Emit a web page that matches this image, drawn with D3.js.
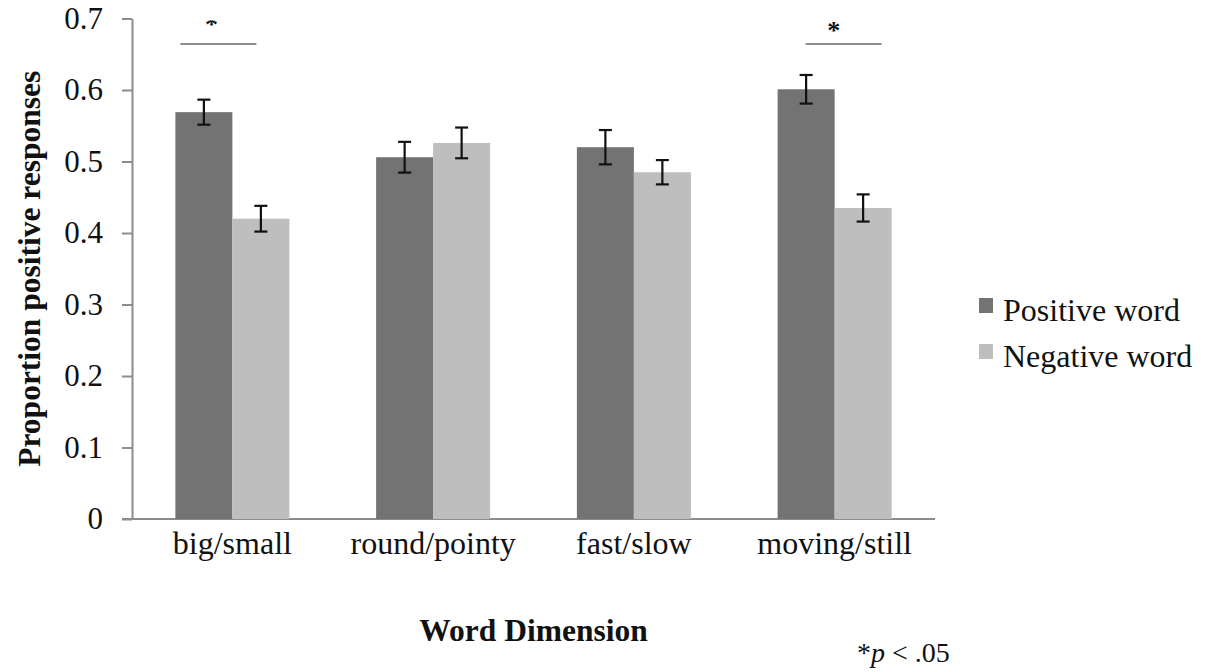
<!DOCTYPE html>
<html>
<head>
<meta charset="utf-8">
<script src="https://cdn.jsdelivr.net/npm/d3@7/dist/d3.min.js"></script>
<style>
  html, body { margin: 0; padding: 0; background: #fff; }
  svg { display: block; }
  text { font-family: "Liberation Serif", "Times New Roman", serif; fill: #111; }
</style>
</head>
<body>
<svg id="chart" width="1212" height="672"></svg>
<script>
// Word dimensions on the x axis
const categories = ["big/small", "round/pointy", "fast/slow", "moving/still"];
// Series names (legend)
const seriesNames = ["Positive word", "Negative word"];
// Mean proportion of positive responses
const positiveWord = [0.569, 0.506, 0.520, 0.601];
const negativeWord = [0.420, 0.526, 0.485, 0.435];
// Standard errors
const positiveErr = [0.0175, 0.0215, 0.024, 0.020];
const negativeErr = [0.018, 0.0215, 0.017, 0.019];
// Y axis tick values
const yTicks = [0, 0.1, 0.2, 0.3, 0.4, 0.5, 0.6, 0.7];
// Dimensions with a significant difference
const significant = ["big/small", "moving/still"];

const colors = { "Positive word": "#737373", "Negative word": "#bebebe" };
const axisColor = "#8c8c8c";
const serif = "Liberation Serif, serif";

const svg = d3.select("#chart");
const plotLeft = 132, plotRight = 935, plotTop = 18.5, plotBottom = 519;

const x0 = d3.scaleBand().domain(categories).range([plotLeft, plotRight]);
const x1 = d3.scaleBand().domain(seriesNames).range([0, x0.bandwidth()])
  .paddingInner(0).paddingOuter(0.761);
const y = d3.scaleLinear().domain([0, 0.7]).range([plotBottom, plotTop]);

const rows = categories.map((c, i) => ({
  cat: c,
  vals: [
    { s: seriesNames[0], v: positiveWord[i], e: positiveErr[i] },
    { s: seriesNames[1], v: negativeWord[i], e: negativeErr[i] }
  ]
}));

// Y axis
const yAxis = d3.axisLeft(y).tickValues(yTicks).tickSize(10).tickSizeOuter(0).tickPadding(19)
  .tickFormat(d => d === 0 ? "0" : d3.format(".1f")(d));
const gy = svg.append("g").attr("transform", `translate(${plotLeft},0)`).call(yAxis);
gy.attr("font-family", serif);
gy.select(".domain").attr("stroke", axisColor).attr("stroke-width", 2);
gy.selectAll(".tick line").attr("stroke", axisColor).attr("stroke-width", 2);
gy.selectAll(".tick text").attr("font-size", 31).attr("fill", "#111");

// X axis baseline (extends under the 0 tick)
const xAxis = d3.axisBottom(x0).tickSize(0).tickSizeOuter(0).tickPadding(12);
const gx = svg.append("g").attr("transform", `translate(0,${plotBottom})`).call(xAxis);
gx.attr("font-family", serif);
gx.select(".domain").remove();
gx.append("line").attr("x1", plotLeft - 10).attr("x2", plotRight).attr("y1", 0).attr("y2", 0)
  .attr("stroke", axisColor).attr("stroke-width", 2);
gx.selectAll(".tick text").attr("font-size", 32).attr("fill", "#111").attr("dy", "0.71em");

// Bars
const groups = svg.append("g").selectAll("g").data(rows).join("g")
  .attr("transform", d => `translate(${x0(d.cat)},0)`);
groups.selectAll("rect").data(d => d.vals).join("rect")
  .attr("x", d => x1(d.s))
  .attr("width", x1.bandwidth())
  .attr("y", d => y(d.v))
  .attr("height", d => y(0) - y(d.v))
  .attr("fill", d => colors[d.s]);

// Error bars
const cap = 6.5;
const eb = groups.selectAll("g.err").data(d => d.vals).join("g").attr("class", "err")
  .attr("stroke", "#111").attr("stroke-width", 2.2);
eb.append("line")
  .attr("x1", d => x1(d.s) + x1.bandwidth() / 2).attr("x2", d => x1(d.s) + x1.bandwidth() / 2)
  .attr("y1", d => y(d.v + d.e)).attr("y2", d => y(d.v - d.e));
eb.append("line")
  .attr("x1", d => x1(d.s) + x1.bandwidth() / 2 - cap).attr("x2", d => x1(d.s) + x1.bandwidth() / 2 + cap)
  .attr("y1", d => y(d.v + d.e)).attr("y2", d => y(d.v + d.e));
eb.append("line")
  .attr("x1", d => x1(d.s) + x1.bandwidth() / 2 - cap).attr("x2", d => x1(d.s) + x1.bandwidth() / 2 + cap)
  .attr("y1", d => y(d.v - d.e)).attr("y2", d => y(d.v - d.e));

// Significance markers: hand-placed bracket and asterisk offsets from the group centre
// (the first asterisk sits higher and is cut off at the top)
const sigLineShift = { "big/small": -14, "moving/still": 9 };
const sigStarShift = { "big/small": -21, "moving/still": -1 };
const sigStarLift = { "big/small": 6, "moving/still": 0 };
const defs = svg.append("defs");
defs.append("clipPath").attr("id", "starClip")
  .append("rect").attr("x", -2000).attr("y", 20.5).attr("width", 4000).attr("height", 40);
const sig = svg.append("g").selectAll("g").data(significant).join("g")
  .attr("transform", d => `translate(${x0(d) + x0.bandwidth() / 2},0)`);
sig.append("line")
  .attr("x1", d => sigLineShift[d] - 38).attr("x2", d => sigLineShift[d] + 38)
  .attr("y1", 44).attr("y2", 44)
  .attr("stroke", axisColor).attr("stroke-width", 2);
sig.append("text").attr("text-anchor", "middle")
  .attr("x", d => sigStarShift[d]).attr("y", d => 38.5 - sigStarLift[d]).attr("font-size", 26)
  .attr("font-weight", "bold")
  .attr("clip-path", (d, i) => i === 0 ? "url(#starClip)" : null)
  .text("*");

// Axis titles
svg.append("text")
  .attr("transform", `translate(40,${(plotTop + plotBottom) / 2}) rotate(-90)`)
  .attr("text-anchor", "middle").attr("font-size", 31.5).attr("font-weight", "bold")
  .text("Proportion positive responses");
svg.append("text").attr("x", (plotLeft + plotRight) / 2).attr("y", 641)
  .attr("text-anchor", "middle").attr("font-size", 31.5).attr("font-weight", "bold")
  .text("Word Dimension");

// Legend
const lg = svg.append("g").attr("transform", "translate(979,0)");
const li = lg.selectAll("g").data(seriesNames).join("g")
  .attr("transform", (d, i) => `translate(0,${321 + i * 46})`);
li.append("rect").attr("x", 0).attr("y", -23).attr("width", 14).attr("height", 15)
  .attr("fill", d => colors[d]);
li.append("text").attr("x", 24).attr("y", 0).attr("font-size", 32).text(d => d);

// Footnote
const fn = svg.append("text").attr("x", 857).attr("y", 662).attr("font-size", 28);
fn.append("tspan").text("*");
fn.append("tspan").attr("font-style", "italic").text("p");
fn.append("tspan").text(" < .05");
</script>
</body>
</html>
